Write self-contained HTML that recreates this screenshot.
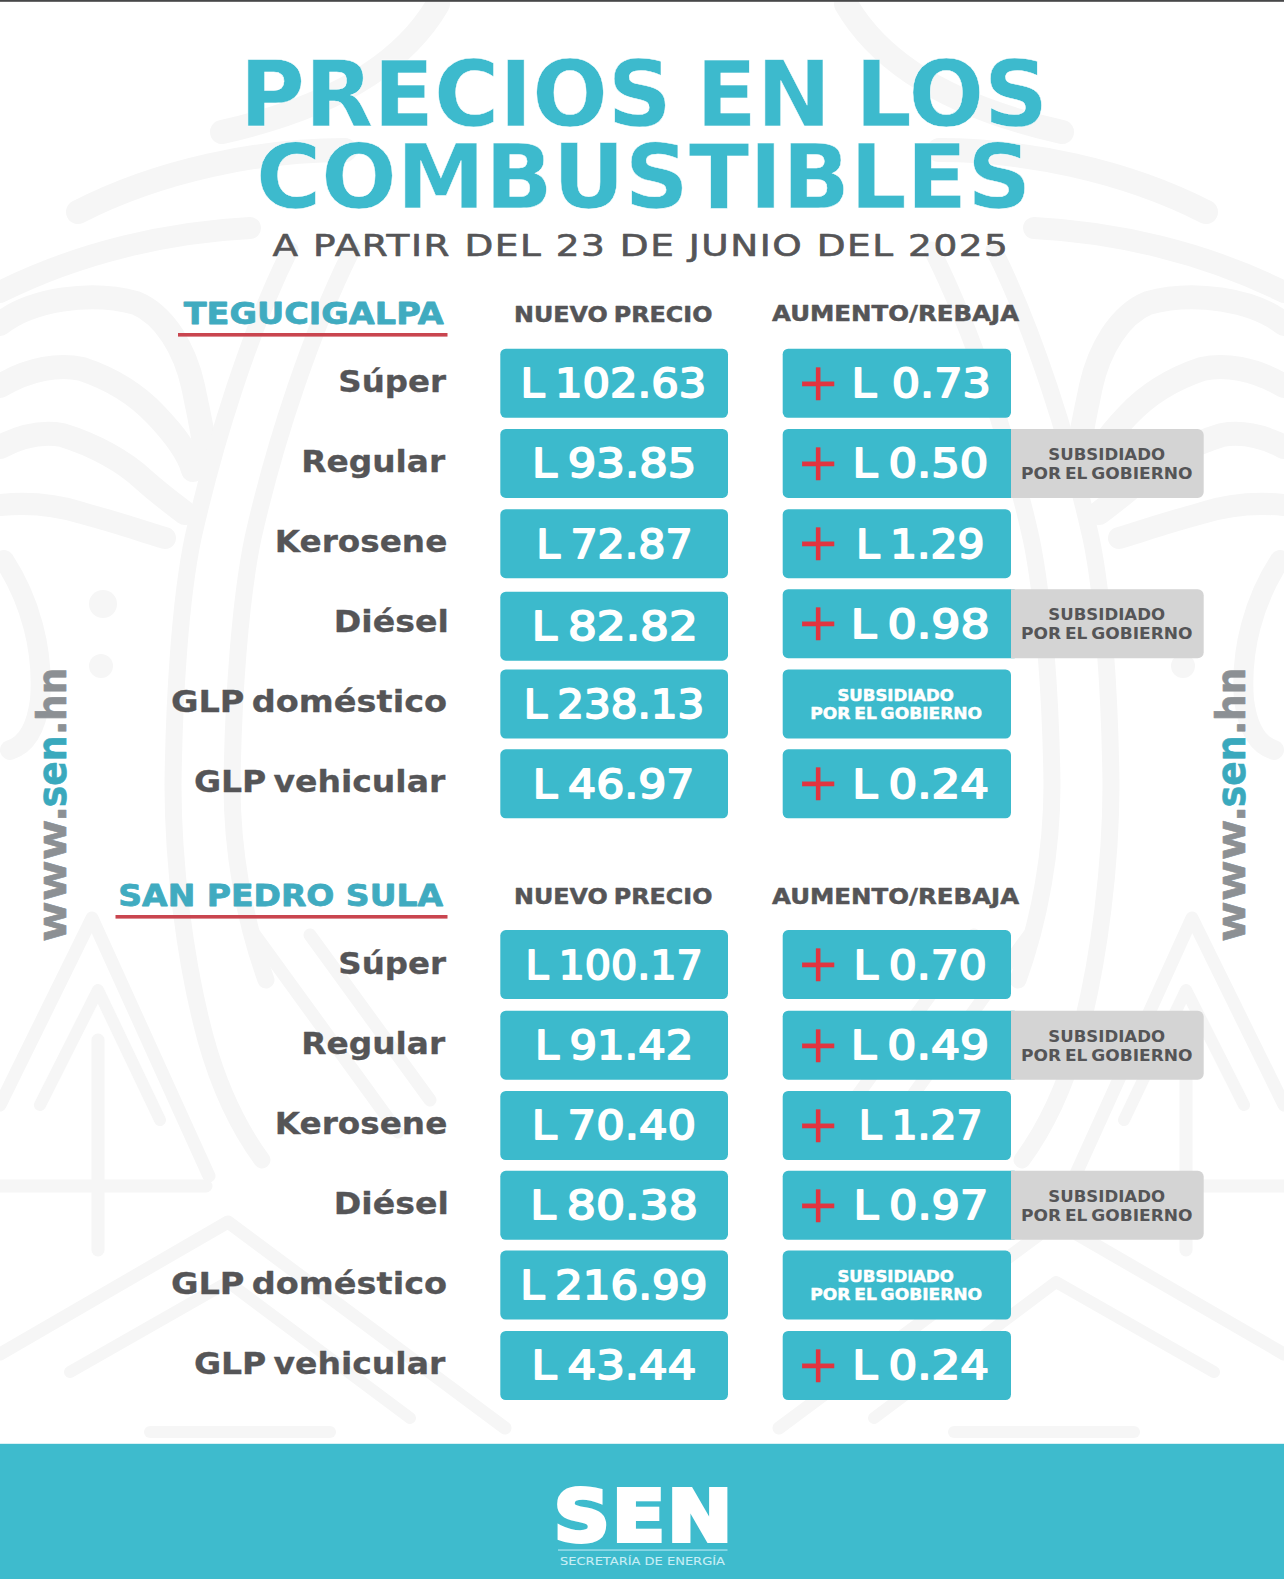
<!DOCTYPE html>
<html lang="es"><head><meta charset="utf-8"><title>Precios en los combustibles</title>
<style>html,body{margin:0;padding:0;background:#ffffff;overflow:hidden}svg{display:block}text{white-space:pre}</style></head><body>
<svg width="1284" height="1579" viewBox="0 0 1284 1579">
<rect width="1284" height="1579" fill="#ffffff"/>
<g fill="none" stroke="#f6f6f6" stroke-linecap="round" stroke-linejoin="round">
<g>
<path d="M438,4 C400,70 320,110 222,132" stroke-width="24"/>
<path d="M345,150 C260,150 160,170 78,212" stroke-width="24"/>
<path d="M250,228 C170,232 80,252 0,292" stroke-width="22"/>
<path d="M0,324 C30,300 90,290 136,303 C165,315 185,350 193,386 C200,420 206,445 206,464" stroke-width="24"/>
<path d="M0,386 C30,368 60,364 82,369 C115,380 140,398 156,415 C175,435 188,452 193,470" stroke-width="24"/>
<path d="M0,447 C25,434 45,432 62,435 C95,445 125,462 144,480 C162,496 176,506 185,513" stroke-width="24"/>
<path d="M0,505 C30,502 60,506 82,513 C115,522 145,532 165,538" stroke-width="22"/>
<path d="M290,250 C250,330 215,440 193,538 C180,600 174,700 173,785 C173,860 184,960 206,1040 C220,1090 240,1130 262,1160" stroke-width="17"/>
<path d="M352,250 C312,330 275,440 253,538 C240,600 233,700 232,785 C232,850 244,920 266,980" stroke-width="17"/>
<circle cx="103" cy="604" r="14" fill="#f6f6f6" stroke="none"/>
<circle cx="101" cy="666" r="12" fill="#f6f6f6" stroke="none"/>
<path d="M4,560 C30,600 44,650 40,700 C36,730 26,745 10,750" stroke-width="20"/>
<path d="M98,1040 V1250" stroke-width="13"/>
<path d="M0,1105 L92,918 L209,1176" stroke-width="13"/>
<path d="M40,1105 L98,990 L160,1120" stroke-width="12"/>
<path d="M0,1186 H206" stroke-width="13"/>
<path d="M0,1354 L228,1222 L505,1428" stroke-width="13"/>
<path d="M70,1372 L228,1282 L410,1418" stroke-width="12"/>
<path d="M255,935 L398,1132 M310,935 L430,1100" stroke-width="13"/>
<path d="M150,1432 H330" stroke-width="12"/>
</g>
<g transform="translate(1284,0) scale(-1,1)">
<path d="M438,4 C400,70 320,110 222,132" stroke-width="24"/>
<path d="M345,150 C260,150 160,170 78,212" stroke-width="24"/>
<path d="M250,228 C170,232 80,252 0,292" stroke-width="22"/>
<path d="M0,324 C30,300 90,290 136,303 C165,315 185,350 193,386 C200,420 206,445 206,464" stroke-width="24"/>
<path d="M0,386 C30,368 60,364 82,369 C115,380 140,398 156,415 C175,435 188,452 193,470" stroke-width="24"/>
<path d="M0,447 C25,434 45,432 62,435 C95,445 125,462 144,480 C162,496 176,506 185,513" stroke-width="24"/>
<path d="M0,505 C30,502 60,506 82,513 C115,522 145,532 165,538" stroke-width="22"/>
<path d="M290,250 C250,330 215,440 193,538 C180,600 174,700 173,785 C173,860 184,960 206,1040 C220,1090 240,1130 262,1160" stroke-width="17"/>
<path d="M352,250 C312,330 275,440 253,538 C240,600 233,700 232,785 C232,850 244,920 266,980" stroke-width="17"/>
<circle cx="103" cy="604" r="14" fill="#f6f6f6" stroke="none"/>
<circle cx="101" cy="666" r="12" fill="#f6f6f6" stroke="none"/>
<path d="M4,560 C30,600 44,650 40,700 C36,730 26,745 10,750" stroke-width="20"/>
<path d="M98,1040 V1250" stroke-width="13"/>
<path d="M0,1105 L92,918 L209,1176" stroke-width="13"/>
<path d="M40,1105 L98,990 L160,1120" stroke-width="12"/>
<path d="M0,1186 H206" stroke-width="13"/>
<path d="M0,1354 L228,1222 L505,1428" stroke-width="13"/>
<path d="M70,1372 L228,1282 L410,1418" stroke-width="12"/>
<path d="M255,935 L398,1132 M310,935 L430,1100" stroke-width="13"/>
<path d="M150,1432 H330" stroke-width="12"/>
</g>
</g>

<rect x="0" y="0" width="1284" height="1.8" fill="#474849"/>
<rect x="178" y="333.00" width="269.5" height="3.6" fill="#c9454f"/>
<rect x="500.30" y="348.75" width="227.70" height="69.00" rx="5.5" ry="5.5" fill="#3cbacc"/>
<rect x="782.70" y="348.75" width="228.30" height="69.00" rx="5.5" ry="5.5" fill="#3cbacc"/>
<rect x="500.30" y="428.90" width="227.70" height="69.00" rx="5.5" ry="5.5" fill="#3cbacc"/>
<path d="M788.20,428.90 H1014.70 A0,0 0 0 1 1014.70,428.90 V497.90 A0,0 0 0 1 1014.70,497.90 H788.20 A5.5,5.5 0 0 1 782.70,492.40 V434.40 A5.5,5.5 0 0 1 788.20,428.90 Z" fill="#3cbacc"/>
<path d="M1011.00,428.90 H1197.70 A6,6 0 0 1 1203.70,434.90 V491.90 A6,6 0 0 1 1197.70,497.90 H1011.00 A0,0 0 0 1 1011.00,497.90 V428.90 A0,0 0 0 1 1011.00,428.90 Z" fill="#d4d4d4"/>
<rect x="500.30" y="509.20" width="227.70" height="69.00" rx="5.5" ry="5.5" fill="#3cbacc"/>
<rect x="782.70" y="509.20" width="228.30" height="69.00" rx="5.5" ry="5.5" fill="#3cbacc"/>
<rect x="500.30" y="591.70" width="227.70" height="69.00" rx="5.5" ry="5.5" fill="#3cbacc"/>
<path d="M788.20,589.20 H1014.70 A0,0 0 0 1 1014.70,589.20 V658.20 A0,0 0 0 1 1014.70,658.20 H788.20 A5.5,5.5 0 0 1 782.70,652.70 V594.70 A5.5,5.5 0 0 1 788.20,589.20 Z" fill="#3cbacc"/>
<path d="M1011.00,589.20 H1197.70 A6,6 0 0 1 1203.70,595.20 V652.20 A6,6 0 0 1 1197.70,658.20 H1011.00 A0,0 0 0 1 1011.00,658.20 V589.20 A0,0 0 0 1 1011.00,589.20 Z" fill="#d4d4d4"/>
<rect x="500.30" y="669.50" width="227.70" height="69.00" rx="5.5" ry="5.5" fill="#3cbacc"/>
<rect x="782.70" y="669.50" width="228.30" height="69.00" rx="5.5" ry="5.5" fill="#3cbacc"/>
<rect x="500.30" y="749.30" width="227.70" height="69.00" rx="5.5" ry="5.5" fill="#3cbacc"/>
<rect x="782.70" y="749.30" width="228.30" height="69.00" rx="5.5" ry="5.5" fill="#3cbacc"/>
<rect x="115.5" y="915.00" width="332.0" height="3.6" fill="#c9454f"/>
<rect x="500.30" y="930.10" width="227.70" height="69.00" rx="5.5" ry="5.5" fill="#3cbacc"/>
<rect x="782.70" y="930.10" width="228.30" height="69.00" rx="5.5" ry="5.5" fill="#3cbacc"/>
<rect x="500.30" y="1010.70" width="227.70" height="69.00" rx="5.5" ry="5.5" fill="#3cbacc"/>
<path d="M788.20,1010.70 H1014.70 A0,0 0 0 1 1014.70,1010.70 V1079.70 A0,0 0 0 1 1014.70,1079.70 H788.20 A5.5,5.5 0 0 1 782.70,1074.20 V1016.20 A5.5,5.5 0 0 1 788.20,1010.70 Z" fill="#3cbacc"/>
<path d="M1011.00,1010.70 H1197.70 A6,6 0 0 1 1203.70,1016.70 V1073.70 A6,6 0 0 1 1197.70,1079.70 H1011.00 A0,0 0 0 1 1011.00,1079.70 V1010.70 A0,0 0 0 1 1011.00,1010.70 Z" fill="#d4d4d4"/>
<rect x="500.30" y="1091.00" width="227.70" height="69.00" rx="5.5" ry="5.5" fill="#3cbacc"/>
<rect x="782.70" y="1091.00" width="228.30" height="69.00" rx="5.5" ry="5.5" fill="#3cbacc"/>
<rect x="500.30" y="1170.80" width="227.70" height="69.00" rx="5.5" ry="5.5" fill="#3cbacc"/>
<path d="M788.20,1170.80 H1014.70 A0,0 0 0 1 1014.70,1170.80 V1239.80 A0,0 0 0 1 1014.70,1239.80 H788.20 A5.5,5.5 0 0 1 782.70,1234.30 V1176.30 A5.5,5.5 0 0 1 788.20,1170.80 Z" fill="#3cbacc"/>
<path d="M1011.00,1170.80 H1197.70 A6,6 0 0 1 1203.70,1176.80 V1233.80 A6,6 0 0 1 1197.70,1239.80 H1011.00 A0,0 0 0 1 1011.00,1239.80 V1170.80 A0,0 0 0 1 1011.00,1170.80 Z" fill="#d4d4d4"/>
<rect x="500.30" y="1250.60" width="227.70" height="69.00" rx="5.5" ry="5.5" fill="#3cbacc"/>
<rect x="782.70" y="1250.60" width="228.30" height="69.00" rx="5.5" ry="5.5" fill="#3cbacc"/>
<rect x="500.30" y="1331.00" width="227.70" height="69.00" rx="5.5" ry="5.5" fill="#3cbacc"/>
<rect x="782.70" y="1331.00" width="228.30" height="69.00" rx="5.5" ry="5.5" fill="#3cbacc"/>
<rect x="0" y="1443.8" width="1284" height="136" fill="#3ebbcd"/>
<rect x="558" y="1549.4" width="169.5" height="1.3" fill="#a5e2ee"/>
<text transform="translate(239.73,125.55) scale(0.9742,1)" font-family="'DejaVu Sans','Liberation Sans',sans-serif" font-weight="bold" font-size="91.22" fill="#3dbacd" stroke="#ffffff" stroke-width="0.5" stroke-linejoin="miter" style="word-spacing:-7px;">PRECIOS EN LOS</text>
<text transform="translate(256.06,208.05) scale(0.9883,1)" font-family="'DejaVu Sans','Liberation Sans',sans-serif" font-weight="bold" font-size="89.85" fill="#3dbacd" stroke="#ffffff" stroke-width="0.5" stroke-linejoin="miter">COMBUSTIBLES</text>
<text transform="translate(272.40,256.20) scale(1.2748,1)" font-family="'DejaVu Sans','Liberation Sans',sans-serif" font-weight="normal" font-size="29.36" fill="#555557" stroke="#555557" stroke-width="0.6" stroke-linejoin="round" style="letter-spacing:1.2px;">A PARTIR DEL 23 DE JUNIO DEL 2025</text>
<text transform="translate(183.75,323.85) scale(1.1017,1)" font-family="'DejaVu Sans','Liberation Sans',sans-serif" font-weight="bold" font-size="30.45" fill="#40abc0" stroke="#40abc0" stroke-width="0.8" stroke-linejoin="round">TEGUCIGALPA</text>
<text transform="translate(514.01,321.75) scale(1.1207,1)" font-family="'DejaVu Sans','Liberation Sans',sans-serif" font-weight="bold" font-size="21.26" fill="#555557" stroke="#555557" stroke-width="0.5" stroke-linejoin="round" style="word-spacing:-2px;">NUEVO PRECIO</text>
<text transform="translate(772.00,320.75) scale(1.1512,1)" font-family="'DejaVu Sans','Liberation Sans',sans-serif" font-weight="bold" font-size="21.26" fill="#555557" stroke="#555557" stroke-width="0.5" stroke-linejoin="round">AUMENTO/REBAJA</text>
<text transform="translate(338.35,392.35) scale(1.0755,1)" font-family="'DejaVu Sans','Liberation Sans',sans-serif" font-weight="bold" font-size="30.18" fill="#555557" stroke="#555557" stroke-width="0.3" stroke-linejoin="round" style="word-spacing:-4px;">Súper</text>
<text transform="translate(520.47,397.15) scale(1.0939,1)" font-family="'DejaVu Sans','Liberation Sans',sans-serif" font-weight="normal" font-size="39.51" fill="#ffffff" stroke="#ffffff" stroke-width="1.8" stroke-linejoin="round" style="word-spacing:-3px;">L 102.63</text>
<text transform="translate(796.76,399.55) scale(0.9879,1)" font-family="'DejaVu Sans','Liberation Sans',sans-serif" font-weight="normal" font-size="51.60" fill="#e2343f" stroke="#e2343f" stroke-width="0.3" stroke-linejoin="miter">+</text>
<text transform="translate(851.62,397.15) scale(1.1271,1)" font-family="'DejaVu Sans','Liberation Sans',sans-serif" font-weight="normal" font-size="39.51" fill="#ffffff" stroke="#ffffff" stroke-width="1.8" stroke-linejoin="round" style="word-spacing:1px;">L 0.73</text>
<text transform="translate(301.24,472.35) scale(1.0877,1)" font-family="'DejaVu Sans','Liberation Sans',sans-serif" font-weight="bold" font-size="30.18" fill="#555557" stroke="#555557" stroke-width="0.3" stroke-linejoin="round" style="word-spacing:-4px;">Regular</text>
<text transform="translate(531.89,477.30) scale(1.1367,1)" font-family="'DejaVu Sans','Liberation Sans',sans-serif" font-weight="normal" font-size="39.51" fill="#ffffff" stroke="#ffffff" stroke-width="1.8" stroke-linejoin="round" style="word-spacing:-3px;">L 93.85</text>
<text transform="translate(1048.24,460.10) scale(1.0088,1)" font-family="'DejaVu Sans','Liberation Sans',sans-serif" font-weight="bold" font-size="16.46" fill="#555557">SUBSIDIADO</text>
<text transform="translate(1020.93,478.90) scale(1.0353,1)" font-family="'DejaVu Sans','Liberation Sans',sans-serif" font-weight="bold" font-size="16.46" fill="#555557" style="word-spacing:-2px;">POR EL GOBIERNO</text>
<text transform="translate(796.76,479.70) scale(0.9879,1)" font-family="'DejaVu Sans','Liberation Sans',sans-serif" font-weight="normal" font-size="51.60" fill="#e2343f" stroke="#e2343f" stroke-width="0.3" stroke-linejoin="miter">+</text>
<text transform="translate(852.59,477.30) scale(1.1365,1)" font-family="'DejaVu Sans','Liberation Sans',sans-serif" font-weight="normal" font-size="39.51" fill="#ffffff" stroke="#ffffff" stroke-width="1.8" stroke-linejoin="round" style="word-spacing:-3px;">L 0.50</text>
<text transform="translate(274.75,552.35) scale(1.0832,1)" font-family="'DejaVu Sans','Liberation Sans',sans-serif" font-weight="bold" font-size="30.18" fill="#555557" stroke="#555557" stroke-width="0.3" stroke-linejoin="round" style="word-spacing:-4px;">Kerosene</text>
<text transform="translate(536.26,557.60) scale(1.0813,1)" font-family="'DejaVu Sans','Liberation Sans',sans-serif" font-weight="normal" font-size="39.51" fill="#ffffff" stroke="#ffffff" stroke-width="1.8" stroke-linejoin="round" style="word-spacing:-3px;">L 72.87</text>
<text transform="translate(796.76,560.00) scale(0.9879,1)" font-family="'DejaVu Sans','Liberation Sans',sans-serif" font-weight="normal" font-size="51.60" fill="#e2343f" stroke="#e2343f" stroke-width="0.3" stroke-linejoin="miter">+</text>
<text transform="translate(856.08,557.60) scale(1.0748,1)" font-family="'DejaVu Sans','Liberation Sans',sans-serif" font-weight="normal" font-size="39.51" fill="#ffffff" stroke="#ffffff" stroke-width="1.8" stroke-linejoin="round" style="word-spacing:-3px;">L 1.29</text>
<text transform="translate(333.70,632.35) scale(1.1000,1)" font-family="'DejaVu Sans','Liberation Sans',sans-serif" font-weight="bold" font-size="30.18" fill="#555557" stroke="#555557" stroke-width="0.3" stroke-linejoin="round" style="word-spacing:-4px;">Diésel</text>
<text transform="translate(531.76,640.10) scale(1.1482,1)" font-family="'DejaVu Sans','Liberation Sans',sans-serif" font-weight="normal" font-size="39.51" fill="#ffffff" stroke="#ffffff" stroke-width="1.8" stroke-linejoin="round" style="word-spacing:-3px;">L 82.82</text>
<text transform="translate(1048.24,620.40) scale(1.0088,1)" font-family="'DejaVu Sans','Liberation Sans',sans-serif" font-weight="bold" font-size="16.46" fill="#555557">SUBSIDIADO</text>
<text transform="translate(1020.93,639.20) scale(1.0353,1)" font-family="'DejaVu Sans','Liberation Sans',sans-serif" font-weight="bold" font-size="16.46" fill="#555557" style="word-spacing:-2px;">POR EL GOBIERNO</text>
<text transform="translate(796.76,640.00) scale(0.9879,1)" font-family="'DejaVu Sans','Liberation Sans',sans-serif" font-weight="normal" font-size="51.60" fill="#e2343f" stroke="#e2343f" stroke-width="0.3" stroke-linejoin="miter">+</text>
<text transform="translate(850.71,637.60) scale(1.1635,1)" font-family="'DejaVu Sans','Liberation Sans',sans-serif" font-weight="normal" font-size="39.51" fill="#ffffff" stroke="#ffffff" stroke-width="1.8" stroke-linejoin="round" style="word-spacing:-3px;">L 0.98</text>
<text transform="translate(170.89,712.35) scale(1.1134,1)" font-family="'DejaVu Sans','Liberation Sans',sans-serif" font-weight="bold" font-size="30.18" fill="#555557" stroke="#555557" stroke-width="0.3" stroke-linejoin="round" style="word-spacing:-4px;">GLP doméstico</text>
<text transform="translate(523.71,717.90) scale(1.0636,1)" font-family="'DejaVu Sans','Liberation Sans',sans-serif" font-weight="normal" font-size="39.51" fill="#ffffff" stroke="#ffffff" stroke-width="1.8" stroke-linejoin="round" style="word-spacing:-3px;">L 238.13</text>
<text transform="translate(837.45,700.55) scale(1.0482,1)" font-family="'DejaVu Sans','Liberation Sans',sans-serif" font-weight="bold" font-size="15.78" fill="#ffffff" stroke="#ffffff" stroke-width="0.5" stroke-linejoin="round">SUBSIDIADO</text>
<text transform="translate(810.32,719.25) scale(1.0828,1)" font-family="'DejaVu Sans','Liberation Sans',sans-serif" font-weight="bold" font-size="15.78" fill="#ffffff" stroke="#ffffff" stroke-width="0.5" stroke-linejoin="round" style="word-spacing:-2px;">POR EL GOBIERNO</text>
<text transform="translate(193.90,792.35) scale(1.0956,1)" font-family="'DejaVu Sans','Liberation Sans',sans-serif" font-weight="bold" font-size="30.18" fill="#555557" stroke="#555557" stroke-width="0.3" stroke-linejoin="round" style="word-spacing:-4px;">GLP vehicular</text>
<text transform="translate(532.85,797.70) scale(1.1173,1)" font-family="'DejaVu Sans','Liberation Sans',sans-serif" font-weight="normal" font-size="39.51" fill="#ffffff" stroke="#ffffff" stroke-width="1.8" stroke-linejoin="round" style="word-spacing:-3px;">L 46.97</text>
<text transform="translate(796.76,800.10) scale(0.9879,1)" font-family="'DejaVu Sans','Liberation Sans',sans-serif" font-weight="normal" font-size="51.60" fill="#e2343f" stroke="#e2343f" stroke-width="0.3" stroke-linejoin="miter">+</text>
<text transform="translate(852.37,797.70) scale(1.1435,1)" font-family="'DejaVu Sans','Liberation Sans',sans-serif" font-weight="normal" font-size="39.51" fill="#ffffff" stroke="#ffffff" stroke-width="1.8" stroke-linejoin="round" style="word-spacing:-3px;">L 0.24</text>
<text transform="translate(118.33,905.85) scale(1.0842,1)" font-family="'DejaVu Sans','Liberation Sans',sans-serif" font-weight="bold" font-size="30.45" fill="#40abc0" stroke="#40abc0" stroke-width="0.8" stroke-linejoin="round">SAN PEDRO SULA</text>
<text transform="translate(514.01,904.05) scale(1.1207,1)" font-family="'DejaVu Sans','Liberation Sans',sans-serif" font-weight="bold" font-size="21.26" fill="#555557" stroke="#555557" stroke-width="0.5" stroke-linejoin="round" style="word-spacing:-2px;">NUEVO PRECIO</text>
<text transform="translate(772.00,903.55) scale(1.1512,1)" font-family="'DejaVu Sans','Liberation Sans',sans-serif" font-weight="bold" font-size="21.26" fill="#555557" stroke="#555557" stroke-width="0.5" stroke-linejoin="round">AUMENTO/REBAJA</text>
<text transform="translate(338.35,973.85) scale(1.0755,1)" font-family="'DejaVu Sans','Liberation Sans',sans-serif" font-weight="bold" font-size="30.18" fill="#555557" stroke="#555557" stroke-width="0.3" stroke-linejoin="round" style="word-spacing:-4px;">Súper</text>
<text transform="translate(525.47,978.50) scale(1.0445,1)" font-family="'DejaVu Sans','Liberation Sans',sans-serif" font-weight="normal" font-size="39.51" fill="#ffffff" stroke="#ffffff" stroke-width="1.8" stroke-linejoin="round" style="word-spacing:-3px;">L 100.17</text>
<text transform="translate(796.76,980.90) scale(0.9879,1)" font-family="'DejaVu Sans','Liberation Sans',sans-serif" font-weight="normal" font-size="51.60" fill="#e2343f" stroke="#e2343f" stroke-width="0.3" stroke-linejoin="miter">+</text>
<text transform="translate(853.46,978.50) scale(1.1148,1)" font-family="'DejaVu Sans','Liberation Sans',sans-serif" font-weight="normal" font-size="39.51" fill="#ffffff" stroke="#ffffff" stroke-width="1.8" stroke-linejoin="round" style="word-spacing:-3px;">L 0.70</text>
<text transform="translate(301.24,1053.85) scale(1.0877,1)" font-family="'DejaVu Sans','Liberation Sans',sans-serif" font-weight="bold" font-size="30.18" fill="#555557" stroke="#555557" stroke-width="0.3" stroke-linejoin="round" style="word-spacing:-4px;">Regular</text>
<text transform="translate(535.02,1059.10) scale(1.0935,1)" font-family="'DejaVu Sans','Liberation Sans',sans-serif" font-weight="normal" font-size="39.51" fill="#ffffff" stroke="#ffffff" stroke-width="1.8" stroke-linejoin="round" style="word-spacing:-3px;">L 91.42</text>
<text transform="translate(1048.24,1041.90) scale(1.0088,1)" font-family="'DejaVu Sans','Liberation Sans',sans-serif" font-weight="bold" font-size="16.46" fill="#555557">SUBSIDIADO</text>
<text transform="translate(1020.93,1060.70) scale(1.0353,1)" font-family="'DejaVu Sans','Liberation Sans',sans-serif" font-weight="bold" font-size="16.46" fill="#555557" style="word-spacing:-2px;">POR EL GOBIERNO</text>
<text transform="translate(796.76,1061.50) scale(0.9879,1)" font-family="'DejaVu Sans','Liberation Sans',sans-serif" font-weight="normal" font-size="51.60" fill="#e2343f" stroke="#e2343f" stroke-width="0.3" stroke-linejoin="miter">+</text>
<text transform="translate(850.72,1059.10) scale(1.1591,1)" font-family="'DejaVu Sans','Liberation Sans',sans-serif" font-weight="normal" font-size="39.51" fill="#ffffff" stroke="#ffffff" stroke-width="1.8" stroke-linejoin="round" style="word-spacing:-3px;">L 0.49</text>
<text transform="translate(274.75,1133.85) scale(1.0832,1)" font-family="'DejaVu Sans','Liberation Sans',sans-serif" font-weight="bold" font-size="30.18" fill="#555557" stroke="#555557" stroke-width="0.3" stroke-linejoin="round" style="word-spacing:-4px;">Kerosene</text>
<text transform="translate(531.80,1139.40) scale(1.1350,1)" font-family="'DejaVu Sans','Liberation Sans',sans-serif" font-weight="normal" font-size="39.51" fill="#ffffff" stroke="#ffffff" stroke-width="1.8" stroke-linejoin="round" style="word-spacing:-3px;">L 70.40</text>
<text transform="translate(796.76,1141.80) scale(0.9879,1)" font-family="'DejaVu Sans','Liberation Sans',sans-serif" font-weight="normal" font-size="51.60" fill="#e2343f" stroke="#e2343f" stroke-width="0.3" stroke-linejoin="miter">+</text>
<text transform="translate(858.69,1139.40) scale(1.0360,1)" font-family="'DejaVu Sans','Liberation Sans',sans-serif" font-weight="normal" font-size="39.51" fill="#ffffff" stroke="#ffffff" stroke-width="1.8" stroke-linejoin="round" style="word-spacing:-3px;">L 1.27</text>
<text transform="translate(333.70,1213.85) scale(1.1000,1)" font-family="'DejaVu Sans','Liberation Sans',sans-serif" font-weight="bold" font-size="30.18" fill="#555557" stroke="#555557" stroke-width="0.3" stroke-linejoin="round" style="word-spacing:-4px;">Diésel</text>
<text transform="translate(530.22,1219.20) scale(1.1586,1)" font-family="'DejaVu Sans','Liberation Sans',sans-serif" font-weight="normal" font-size="39.51" fill="#ffffff" stroke="#ffffff" stroke-width="1.8" stroke-linejoin="round" style="word-spacing:-3px;">L 80.38</text>
<text transform="translate(1048.24,1202.00) scale(1.0088,1)" font-family="'DejaVu Sans','Liberation Sans',sans-serif" font-weight="bold" font-size="16.46" fill="#555557">SUBSIDIADO</text>
<text transform="translate(1020.93,1220.80) scale(1.0353,1)" font-family="'DejaVu Sans','Liberation Sans',sans-serif" font-weight="bold" font-size="16.46" fill="#555557" style="word-spacing:-2px;">POR EL GOBIERNO</text>
<text transform="translate(796.76,1221.60) scale(0.9879,1)" font-family="'DejaVu Sans','Liberation Sans',sans-serif" font-weight="normal" font-size="51.60" fill="#e2343f" stroke="#e2343f" stroke-width="0.3" stroke-linejoin="miter">+</text>
<text transform="translate(853.41,1219.20) scale(1.1289,1)" font-family="'DejaVu Sans','Liberation Sans',sans-serif" font-weight="normal" font-size="39.51" fill="#ffffff" stroke="#ffffff" stroke-width="1.8" stroke-linejoin="round" style="word-spacing:-3px;">L 0.97</text>
<text transform="translate(170.89,1293.85) scale(1.1134,1)" font-family="'DejaVu Sans','Liberation Sans',sans-serif" font-weight="bold" font-size="30.18" fill="#555557" stroke="#555557" stroke-width="0.3" stroke-linejoin="round" style="word-spacing:-4px;">GLP doméstico</text>
<text transform="translate(520.29,1299.00) scale(1.1024,1)" font-family="'DejaVu Sans','Liberation Sans',sans-serif" font-weight="normal" font-size="39.51" fill="#ffffff" stroke="#ffffff" stroke-width="1.8" stroke-linejoin="round" style="word-spacing:-3px;">L 216.99</text>
<text transform="translate(837.45,1281.65) scale(1.0482,1)" font-family="'DejaVu Sans','Liberation Sans',sans-serif" font-weight="bold" font-size="15.78" fill="#ffffff" stroke="#ffffff" stroke-width="0.5" stroke-linejoin="round">SUBSIDIADO</text>
<text transform="translate(810.32,1300.35) scale(1.0828,1)" font-family="'DejaVu Sans','Liberation Sans',sans-serif" font-weight="bold" font-size="15.78" fill="#ffffff" stroke="#ffffff" stroke-width="0.5" stroke-linejoin="round" style="word-spacing:-2px;">POR EL GOBIERNO</text>
<text transform="translate(193.90,1373.85) scale(1.0956,1)" font-family="'DejaVu Sans','Liberation Sans',sans-serif" font-weight="bold" font-size="30.18" fill="#555557" stroke="#555557" stroke-width="0.3" stroke-linejoin="round" style="word-spacing:-4px;">GLP vehicular</text>
<text transform="translate(531.58,1379.40) scale(1.1393,1)" font-family="'DejaVu Sans','Liberation Sans',sans-serif" font-weight="normal" font-size="39.51" fill="#ffffff" stroke="#ffffff" stroke-width="1.8" stroke-linejoin="round" style="word-spacing:-3px;">L 43.44</text>
<text transform="translate(796.76,1381.80) scale(0.9879,1)" font-family="'DejaVu Sans','Liberation Sans',sans-serif" font-weight="normal" font-size="51.60" fill="#e2343f" stroke="#e2343f" stroke-width="0.3" stroke-linejoin="miter">+</text>
<text transform="translate(852.37,1379.40) scale(1.1435,1)" font-family="'DejaVu Sans','Liberation Sans',sans-serif" font-weight="normal" font-size="39.51" fill="#ffffff" stroke="#ffffff" stroke-width="1.8" stroke-linejoin="round" style="word-spacing:-3px;">L 0.24</text>
<text transform="translate(553.73,1540.50) scale(1.0897,1)" font-family="'DejaVu Sans','Liberation Sans',sans-serif" font-weight="bold" font-size="71.33" fill="#ffffff" stroke="#ffffff" stroke-width="4.0" stroke-linejoin="miter" style="letter-spacing:2px;">SEN</text>
<text transform="translate(560.05,1564.95) scale(1.2004,1)" font-family="'DejaVu Sans','Liberation Sans',sans-serif" font-weight="normal" font-size="10.84" fill="#c9eef5" stroke="#c9eef5" stroke-width="0.1" stroke-linejoin="round">SECRETARÍA DE ENERGÍA</text>
<text transform="translate(66.10,940.80) rotate(-90) scale(1.0983,1)" x="-1.00" y="0" font-family="'DejaVu Sans','Liberation Sans',sans-serif" font-weight="bold" font-size="40.22" fill="#8c9094" stroke="#8c9094" stroke-width="0.6" stroke-linejoin="round">www.</text>
<text transform="translate(66.10,805.40) rotate(-90) scale(0.8987,1)" x="-2.00" y="0" font-family="'DejaVu Sans','Liberation Sans',sans-serif" font-weight="bold" font-size="40.22" fill="#3aa9bd" stroke="#3aa9bd" stroke-width="0.6" stroke-linejoin="round">sen</text>
<text transform="translate(66.10,731.40) rotate(-90) scale(0.9288,1)" x="-4.00" y="0" font-family="'DejaVu Sans','Liberation Sans',sans-serif" font-weight="bold" font-size="40.22" fill="#8c9094" stroke="#8c9094" stroke-width="0.6" stroke-linejoin="round">.hn</text>
<text transform="translate(1245.00,940.80) rotate(-90) scale(1.0983,1)" x="-1.00" y="0" font-family="'DejaVu Sans','Liberation Sans',sans-serif" font-weight="bold" font-size="40.22" fill="#8c9094" stroke="#8c9094" stroke-width="0.6" stroke-linejoin="round">www.</text>
<text transform="translate(1245.00,805.40) rotate(-90) scale(0.8987,1)" x="-2.00" y="0" font-family="'DejaVu Sans','Liberation Sans',sans-serif" font-weight="bold" font-size="40.22" fill="#3aa9bd" stroke="#3aa9bd" stroke-width="0.6" stroke-linejoin="round">sen</text>
<text transform="translate(1245.00,731.40) rotate(-90) scale(0.9288,1)" x="-4.00" y="0" font-family="'DejaVu Sans','Liberation Sans',sans-serif" font-weight="bold" font-size="40.22" fill="#8c9094" stroke="#8c9094" stroke-width="0.6" stroke-linejoin="round">.hn</text>
</svg></body></html>
